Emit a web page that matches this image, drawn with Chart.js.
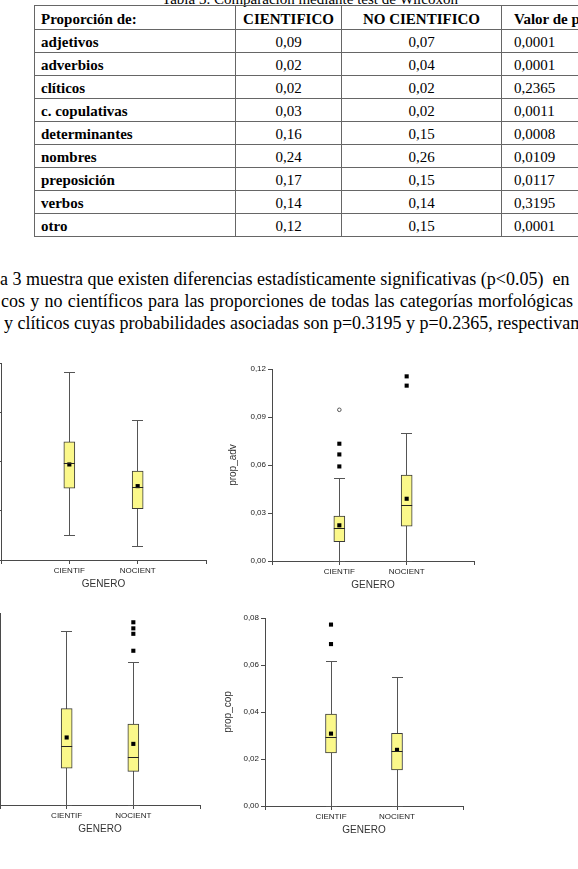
<!DOCTYPE html>
<html lang="es">
<head>
<meta charset="utf-8">
<title>Tabla 3 y diagramas de caja</title>
<script src="https://cdn.jsdelivr.net/npm/chart.js@4.4.1/dist/chart.umd.min.js"></script>
<style>
  html, body { margin: 0; padding: 0; background: #fff; }
  body {
    width: 578px; height: 869px; position: relative; overflow: hidden;
    font-family: 'Liberation Serif', 'Times New Roman', 'DejaVu Serif', serif; color: #000;
  }
  .leyenda {
    position: absolute; left: 34px; top: -9px; width: 552px;
    text-align: center; font-size: 15px; line-height: 17px; white-space: nowrap;
  }
  #tabla {
    position: absolute; left: 34px; top: 5px; width: 587px;
    border-collapse: collapse; table-layout: fixed; font-size: 15px;
  }
  #tabla td, #tabla th {
    border: 1px solid #666; padding: 0 6px 1px; line-height: 17px;
    vertical-align: bottom; white-space: nowrap; text-align: center;
  }
  #tabla th { font-weight: bold; }
  #tabla td.cat, #tabla th.cat { text-align: left; font-weight: bold; }
  #tabla td.p, #tabla th.p { text-align: left; padding-left: 12px; }
  #tabla tr { height: 23px; }
  #tabla tr.cab { height: 24px; }
  .linea {
    position: absolute; font-size: 18px; line-height: 22px; white-space: pre;
  }
  .just { white-space: normal; text-align: justify; text-align-last: justify; }
  canvas { position: absolute; }
</style>
</head>
<body>

<div class="leyenda">Tabla 3. Comparación mediante test de Wilcoxon</div>
<table id="tabla">
  <colgroup>
    <col style="width:201px"><col style="width:106px"><col style="width:160px"><col style="width:120px">
  </colgroup>
  <thead></thead>
  <tbody></tbody>
</table>

<div class="linea" style="left:0px; top:268px;">a 3 muestra que existen diferencias estadísticamente significativas (p&lt;0.05)  en</div>
<div class="linea just" style="left:1px; top:290px; width:572px;">cos y no científicos para las proporciones de todas las categorías morfológicas</div>
<div class="linea" style="left:4px; top:312px;">y clíticos cuyas probabilidades asociadas son p=0.3195 y p=0.2365, respectivamente.</div>

<canvas id="graficaAdj" width="259" height="235" style="left:-45px; top:355px;"></canvas>
<canvas id="graficaAdv" width="256" height="230" style="left:226px; top:361px;"></canvas>
<canvas id="graficaClit" width="254" height="230" style="left:-46px; top:605px;"></canvas>
<canvas id="graficaCop" width="252" height="226" style="left:219px; top:610px;"></canvas>

<script>
// Tabla 3: medias por categoría morfológica
const ENCABEZADOS = ['Proporción de:', 'CIENTIFICO', 'NO CIENTIFICO', 'Valor de p'];
const FILAS = ['adjetivos', 'adverbios', 'clíticos', 'c. copulativas', 'determinantes',
               'nombres', 'preposición', 'verbos', 'otro'];
const CIENTIFICO = [0.09, 0.02, 0.02, 0.03, 0.16, 0.24, 0.17, 0.14, 0.12];
const NO_CIENTIFICO = [0.07, 0.04, 0.02, 0.02, 0.15, 0.26, 0.15, 0.14, 0.15];
const VALOR_P = [0.0001, 0.0001, 0.2365, 0.0011, 0.0008, 0.0109, 0.0117, 0.3195, 0.0001];

// Diagramas de caja (GENERO)
const CATEGORIAS = ['CIENTIF', 'NOCIENT'];
const X_TICKS = [0, 1, 2, 3];

// prop_adj (las etiquetas del eje quedan fuera de la imagen)
const ADJ_TICKS = [0.03, 0.06, 0.09, 0.12, 0.15];
const ADJ_MIN = [0.0452, 0.0385];
const ADJ_Q1 = [0.0738, 0.0613];
const ADJ_MEDIANA = [0.0885, 0.0740];
const ADJ_Q3 = [0.1020, 0.0841];
const ADJ_MAX = [0.1443, 0.1151];
const ADJ_MEDIA = [0.0882, 0.0750];
const ADJ_ATIPICOS = [[], []];
const ADJ_EXTREMOS = [[], []];

// prop_adv
const ADV_TICKS = [0, 0.03, 0.06, 0.09, 0.12];
const ADV_MIN = [0, 0];
const ADV_Q1 = [0.0121, 0.0217];
const ADV_MEDIANA = [0.0202, 0.0348];
const ADV_Q3 = [0.0281, 0.0537];
const ADV_MAX = [0.0518, 0.0799];
const ADV_MEDIA = [0.0223, 0.0389];
const ADV_ATIPICOS = [[0.0591, 0.0666, 0.0733], [0.1096, 0.1154]];
const ADV_EXTREMOS = [[0.0945], []];

// prop_clit (las etiquetas del eje quedan fuera de la imagen)
const CLIT_TICKS = [0, 0.02, 0.04, 0.06];
const CLIT_MIN = [0, 0];
const CLIT_Q1 = [0.0115, 0.0105];
const CLIT_MEDIANA = [0.0183, 0.0147];
const CLIT_Q3 = [0.0301, 0.0253];
const CLIT_MAX = [0.0541, 0.0446];
const CLIT_MEDIA = [0.0211, 0.0191];
const CLIT_ATIPICOS = [[], [0.0482, 0.0535, 0.0552, 0.0571]];
const CLIT_EXTREMOS = [[], []];

// prop_cop
const COP_TICKS = [0, 0.02, 0.04, 0.06, 0.08];
const COP_MIN = [0, 0];
const COP_Q1 = [0.0226, 0.0154];
const COP_MEDIANA = [0.0291, 0.0231];
const COP_Q3 = [0.0391, 0.0309];
const COP_MAX = [0.0614, 0.0546];
const COP_MEDIA = [0.0308, 0.0239];
const COP_ATIPICOS = [[0.0689, 0.0772], []];
const COP_EXTREMOS = [[], []];

function conComa(v, dec) {
    return v.toFixed(dec).replace('.', ',');
}

// Construir la tabla
(function() {
    const thead = document.querySelector('#tabla thead');
    const tbody = document.querySelector('#tabla tbody');
    const clases = ['cat', '', '', 'p'];
    const cab = document.createElement('tr');
    cab.className = 'cab';
    ENCABEZADOS.forEach((t, i) => {
        const th = document.createElement('th');
        th.textContent = t;
        th.className = clases[i];
        cab.appendChild(th);
    });
    thead.appendChild(cab);
    FILAS.forEach((f, i) => {
        const tr = document.createElement('tr');
        [f, conComa(CIENTIFICO[i], 2), conComa(NO_CIENTIFICO[i], 2), conComa(VALOR_P[i], 4)].forEach((t, j) => {
            const td = document.createElement('td');
            td.textContent = t;
            td.className = clases[j];
            tr.appendChild(td);
        });
        tbody.appendChild(tr);
    });
})();

const SANS = "'Liberation Sans', Arial, sans-serif";
const COLOR_EJE = '#4a4a4a';
const COLOR_BIGOTE = '#555555';
const COLOR_CAJA = '#fbf88a';

// Bigotes, topes y mediana dibujados con las escalas del gráfico
const bigotes = {
    id: 'bigotes',
    beforeDatasetsDraw(chart, args, opts) {
        const { ctx, scales: { x, y } } = chart;
        const barras = chart.getDatasetMeta(chart.data.datasets.length - 1).data;
        ctx.save();
        ctx.strokeStyle = COLOR_BIGOTE;
        ctx.lineWidth = 1;
        opts.min.forEach((lo, i) => {
            const px = Math.floor(x.getPixelForValue(i + 1)) + 0.5;
            const mitad = barras[i].width / 2;
            const yLo = Math.floor(y.getPixelForValue(lo)) + 0.5;
            const yHi = Math.floor(y.getPixelForValue(opts.max[i])) + 0.5;
            ctx.beginPath();
            ctx.moveTo(px, yLo);
            ctx.lineTo(px, yHi);
            ctx.moveTo(px - mitad, yLo);
            ctx.lineTo(px + mitad, yLo);
            ctx.moveTo(px - mitad, yHi);
            ctx.lineTo(px + mitad, yHi);
            ctx.stroke();
        });
        ctx.restore();
    },
    afterDatasetsDraw(chart, args, opts) {
        const { ctx, scales: { y } } = chart;
        const barras = chart.getDatasetMeta(chart.data.datasets.length - 1).data;
        ctx.save();
        ctx.strokeStyle = '#222';
        ctx.lineWidth = 1;
        opts.mediana.forEach((m, i) => {
            const b = barras[i];
            const py = Math.floor(y.getPixelForValue(m)) + 0.5;
            ctx.beginPath();
            ctx.moveTo(b.x - b.width / 2, py);
            ctx.lineTo(b.x + b.width / 2, py);
            ctx.stroke();
        });
        ctx.restore();
    }
};

function puntos(listas) {
    const out = [];
    listas.forEach((lista, i) => lista.forEach(v => out.push({ x: i + 1, y: v })));
    return out;
}

function crearBoxplot(id, tituloY, ticksY, d, padTitulo) {
    const ctx = document.getElementById(id);
    const ejeComun = {
        grid: { display: true, drawOnChartArea: false, drawTicks: true, tickLength: 4, tickColor: COLOR_EJE, offset: false },
        border: { display: true, color: COLOR_EJE, width: 1 }
    };
    new Chart(ctx, {
        type: 'bar',
        data: {
            datasets: [
                {   // medias
                    type: 'scatter',
                    data: d.media.map((v, i) => ({ x: i + 1, y: v })),
                    pointStyle: 'rect', pointRadius: 2.9, backgroundColor: '#000', borderWidth: 0
                },
                {   // atípicos
                    type: 'scatter',
                    data: puntos(d.atipicos),
                    pointStyle: 'rect', pointRadius: 2.9, backgroundColor: '#000', borderWidth: 0
                },
                {   // extremos
                    type: 'scatter',
                    data: puntos(d.extremos),
                    pointStyle: 'circle', pointRadius: 1.8, backgroundColor: '#fff',
                    borderColor: '#555', borderWidth: 1
                },
                {   // cajas Q1-Q3
                    type: 'bar',
                    data: d.q1.map((q, i) => ({ x: i + 1, y: [q, d.q3[i]] })),
                    backgroundColor: COLOR_CAJA, borderColor: '#3a3a3a', borderWidth: 1,
                    borderSkipped: false, barThickness: 11
                }
            ]
        },
        options: {
            responsive: false,
            animation: false,
            devicePixelRatio: 1,
            events: [],
            layout: { padding: { left: 0, top: 8, right: 8, bottom: 0 } },
            plugins: {
                legend: { display: false },
                tooltip: { enabled: false },
                bigotes: { min: d.min, max: d.max, mediana: d.mediana }
            },
            scales: {
                x: {
                    ...ejeComun,
                    type: 'linear', min: 0, max: 3, offset: false,
                    afterBuildTicks: s => { s.ticks = X_TICKS.map(v => ({ value: v })); },
                    afterFit: s => { s.height = 30; },
                    ticks: {
                        font: { family: SANS, size: 8 }, color: '#222', padding: 2,
                        maxRotation: 0, autoSkip: false,
                        callback: v => CATEGORIAS[v - 1] || ''
                    },
                    title: {
                        display: true, text: 'GENERO', color: '#333',
                        font: { family: SANS, size: 10 }, padding: { top: 0, bottom: 0 }
                    }
                },
                y: {
                    ...ejeComun,
                    min: ticksY[0], max: ticksY[ticksY.length - 1],
                    afterBuildTicks: s => { s.ticks = ticksY.map(v => ({ value: v })); },
                    afterFit: s => { s.width = 46; },
                    ticks: {
                        font: { family: SANS, size: 8 }, color: '#222', padding: 2,
                        callback: v => conComa(v, 2)
                    },
                    title: {
                        display: true, text: tituloY, color: '#333',
                        font: { family: SANS, size: 10 }, padding: { top: padTitulo, bottom: 0 }
                    }
                }
            }
        },
        plugins: [bigotes]
    });
}

window.addEventListener('DOMContentLoaded', function() {
    crearBoxplot('graficaAdj', 'prop_adj', ADJ_TICKS, {
        min: ADJ_MIN, q1: ADJ_Q1, mediana: ADJ_MEDIANA, q3: ADJ_Q3, max: ADJ_MAX,
        media: ADJ_MEDIA, atipicos: ADJ_ATIPICOS, extremos: ADJ_EXTREMOS
    }, 1);
    crearBoxplot('graficaAdv', 'prop_adv', ADV_TICKS, {
        min: ADV_MIN, q1: ADV_Q1, mediana: ADV_MEDIANA, q3: ADV_Q3, max: ADV_MAX,
        media: ADV_MEDIA, atipicos: ADV_ATIPICOS, extremos: ADV_EXTREMOS
    }, 1);
    crearBoxplot('graficaClit', 'prop_clit', CLIT_TICKS, {
        min: CLIT_MIN, q1: CLIT_Q1, mediana: CLIT_MEDIANA, q3: CLIT_Q3, max: CLIT_MAX,
        media: CLIT_MEDIA, atipicos: CLIT_ATIPICOS, extremos: CLIT_EXTREMOS
    }, 1);
    crearBoxplot('graficaCop', 'prop_cop', COP_TICKS, {
        min: COP_MIN, q1: COP_Q1, mediana: COP_MEDIANA, q3: COP_Q3, max: COP_MAX,
        media: COP_MEDIA, atipicos: COP_ATIPICOS, extremos: COP_EXTREMOS
    }, 3);
});
</script>
</body>
</html>
